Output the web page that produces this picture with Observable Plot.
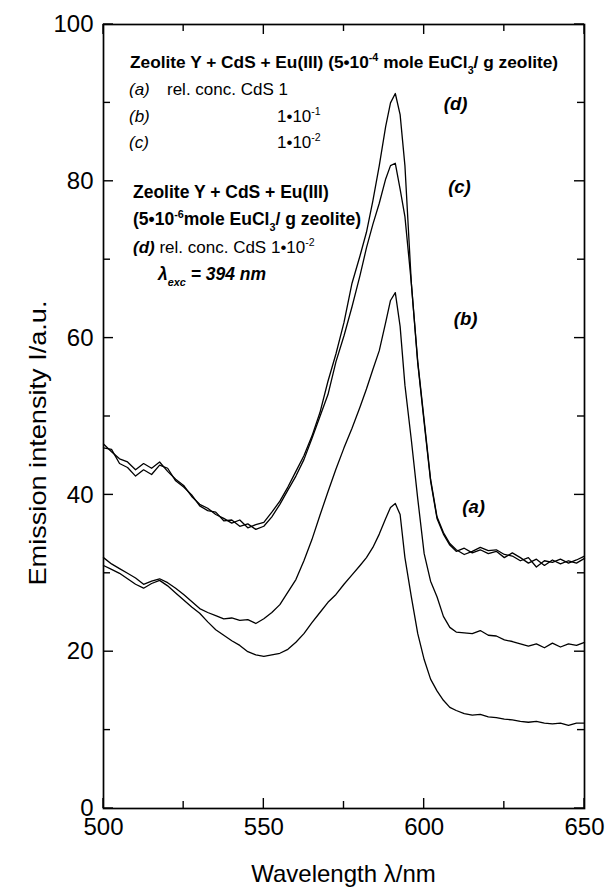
<!DOCTYPE html>
<html><head><meta charset="utf-8">
<script src="https://cdn.jsdelivr.net/npm/d3@7"></script>
<script src="https://cdn.jsdelivr.net/npm/@observablehq/plot@0.6"></script>
<style>html,body{margin:0;padding:0;background:#fff;} #chart svg{display:block;}</style>
</head><body><div id="chart"></div>
<script>
// Wavelength samples (nm)
const wavelengths = [500,502.5,505,507.5,510,512.5,515,517.5,520,522.5,525,527.5,530,532.5,535,537.5,540,542.5,545,547.5,550,552.5,555,557.5,560,562.5,565,567.5,570,572.5,575,577.5,580,
582,584,586,588,589.5,591,592.5,594,596,598,600,602,604,606,608,610,
612.5,615,617.5,620,622.5,625,627.5,630,632.5,635,637.5,640,642.5,645,647.5,650];

// Emission intensity per curve
const curveD = [46.5,45.5,44.6,44.2,43.2,44.0,43.4,44.2,43.0,42.0,41.2,39.8,38.8,38.3,37.5,37.0,36.4,36.8,35.8,36.2,36.5,37.8,39.2,41.0,43.0,45.0,47.5,50.5,54.5,58.0,62.0,67.0,70.5,
73.5,77.5,82.0,87.0,90.0,91.2,88.5,82.0,67.0,57.0,49.5,42.0,37.2,35.2,33.8,33.0,
32.4,32.8,33.3,32.9,33.0,32.4,32.2,31.6,32.0,30.8,31.6,31.4,31.8,31.3,31.7,32.2];
const curveC = [46.0,45.8,44.0,43.5,42.4,43.2,42.6,43.8,43.4,41.8,41.0,40.0,38.6,38.0,37.8,36.7,36.8,36.0,36.3,35.6,36.0,37.2,38.8,40.6,42.4,44.5,47.2,50.0,52.8,57.0,60.3,64.0,68.0,
71.5,74.5,77.2,80.3,82.0,82.3,79.0,75.5,67.0,56.8,49.2,41.8,37.0,35.0,33.6,32.8,
33.2,32.6,33.0,32.5,32.8,32.0,32.6,32.0,31.3,31.8,31.0,31.7,31.2,31.6,31.3,31.9];
const curveB = [32.0,31.2,30.6,30.0,29.4,28.6,29.0,29.3,28.8,28.1,27.3,26.4,25.5,25.0,24.6,24.2,24.3,24.0,24.1,23.6,24.2,25.0,26.0,27.6,29.2,31.6,34.3,37.4,40.4,43.3,46.0,48.5,51.2,
53.5,56.0,58.4,62.0,64.8,65.8,61.5,54.0,47.0,39.5,32.5,29.0,27.0,24.5,23.1,22.5,
22.4,22.3,22.7,22.1,22.0,21.5,21.3,21.0,20.7,21.0,20.5,21.1,20.6,21.0,20.8,21.2];
const curveA = [31.0,30.5,30.0,29.3,28.6,28.1,28.7,29.1,28.4,27.5,26.6,25.7,24.9,23.8,22.8,22.1,21.4,20.8,20.0,19.6,19.4,19.6,19.8,20.3,21.2,22.3,23.7,25.0,26.3,27.3,28.6,29.8,31.0,
32.0,33.3,35.0,37.0,38.4,38.9,37.5,32.0,27.0,22.3,19.0,16.5,15.0,13.8,12.9,12.5,
12.1,11.9,12.0,11.7,11.6,11.4,11.3,11.1,11.0,11.1,10.9,10.8,10.9,10.6,10.9,10.9];

const curveNames = ["(a)","(b)","(c)","(d)"];
const yMajor = [0,20,40,60,80,100];
const yMinor = [10,30,50,70,90];
const xMajor = [500,550,600,650];
const xMinor = [525,575,625];

const rows = [];
[["(a)",curveA],["(b)",curveB],["(c)",curveC],["(d)",curveD]].forEach(([name, vals]) =>
  vals.forEach((v, i) => rows.push({curve: name, wl: wavelengths[i], I: v})));

const font = "'Liberation Sans', Arial, Helvetica, sans-serif";

const plot = Plot.plot({
  width: 607, height: 890,
  marginLeft: 103, marginRight: 23, marginTop: 24, marginBottom: 82,
  style: {fontFamily: font, background: "white", color: "black", overflow: "visible"},
  x: {domain: [500, 650]},
  y: {domain: [0, 100]},
  marks: [
    Plot.line(rows, {x: "wl", y: "I", z: "curve", stroke: "black", strokeWidth: 1.3, curve: "linear"}),
    Plot.frame({stroke: "black", strokeWidth: 1.7}),
    Plot.axisX(xMajor, {anchor: "bottom", tickSize: 0, tickPadding: 9, fontSize: 24, label: null}),
    Plot.axisY(yMajor, {anchor: "left", tickSize: 0, tickPadding: 10, fontSize: 24, label: null}),
    Plot.text(curveNames, {x: [615.4, 612.9, 611.0, 609.8], y: [38.5, 62.4, 79.2, 89.8], text: d => d,
      fontSize: 18.5, fontWeight: "bold", fontStyle: "italic", fill: "black"})
  ]
});
document.getElementById("chart").append(plot);

const svg = d3.select(plot);
const sx = plot.scale("x"), sy = plot.scale("y");
const X = d3.scaleLinear(sx.domain, sx.range);
const Y = d3.scaleLinear(sy.domain, sy.range);
const [x0, x1] = sx.range, [y0, y1] = sy.range; // y0 bottom, y1 top

// inward ticks on all four sides
const tg = svg.append("g").attr("stroke", "black").attr("stroke-width", 1.4);
function tickX(v, len) {
  tg.append("line").attr("x1", X(v)).attr("x2", X(v)).attr("y1", y0).attr("y2", y0 - len);
  tg.append("line").attr("x1", X(v)).attr("x2", X(v)).attr("y1", y1).attr("y2", y1 + len);
}
function tickY(v, len) {
  tg.append("line").attr("y1", Y(v)).attr("y2", Y(v)).attr("x1", x0).attr("x2", x0 + len);
  tg.append("line").attr("y1", Y(v)).attr("y2", Y(v)).attr("x1", x1).attr("x2", x1 - len);
}
xMajor.forEach(v => tickX(v, 10)); xMinor.forEach(v => tickX(v, 7));
yMajor.forEach(v => tickY(v, 10)); yMinor.forEach(v => tickY(v, 7));

// text layer
const g = svg.append("g").attr("font-family", font).attr("fill", "black").attr("text-anchor", "start");
function richText(x, y, parts, {size = 17, weight = "normal", style = "normal"} = {}) {
  const t = g.append("text").attr("x", x).attr("y", y).attr("font-size", size)
    .attr("font-weight", weight).attr("font-style", style).attr("text-anchor", "start");
  let shift = 0;
  for (const p of parts) {
    const o = typeof p === "string" ? {text: p} : p;
    const target = o.sup ? -0.42 * size : o.sub ? 0.32 * size : 0;
    const ts = t.append("tspan").attr("dy", target - shift).text(o.sup || o.sub || o.text);
    if (o.sup || o.sub) ts.attr("font-size", size * 0.62);
    if (o.weight) ts.attr("font-weight", o.weight);
    if (o.style) ts.attr("font-style", o.style);
    shift = target;
  }
  return t;
}
// axis titles
g.append("text").attr("x", (x0 + x1) / 2).attr("y", 882).attr("text-anchor", "middle")
  .attr("font-size", 24).text("Wavelength \u03bb/nm");
g.append("text").attr("transform", "translate(46,443) rotate(-90)").attr("text-anchor", "middle")
  .attr("font-size", 24).attr("textLength", 285).attr("lengthAdjust", "spacingAndGlyphs")
  .text("Emission intensity I/a.u.");

// legend block
richText(130, 68, ["Zeolite Y + CdS + Eu(III) (5\u202210", {sup: "-4"}, " mole EuCl", {sub: "3"}, "/ g zeolite)"], {size: 17.3, weight: "bold"});
richText(129, 95, [{text: "(a)", style: "italic"}]);
richText(167, 95, ["rel. conc. CdS 1"]);
richText(129, 122, [{text: "(b)", style: "italic"}]);
richText(277, 122, ["1\u202210", {sup: "-1"}]);
richText(129, 148, [{text: "(c)", style: "italic"}]);
richText(277, 148, ["1\u202210", {sup: "-2"}]);
richText(133, 198, ["Zeolite Y + CdS + Eu(III)"], {size: 17.5, weight: "bold"});
richText(133, 225, ["(5\u202210", {sup: "-6"}, "mole EuCl", {sub: "3"}, "/ g zeolite)"], {size: 17.5, weight: "bold"});
richText(133, 253, [{text: "(d)", weight: "bold", style: "italic"}, " rel. conc. CdS 1\u202210", {sup: "-2"}]);
richText(158, 280, ["\u03bb", {sub: "exc"}, " = 394 nm"], {size: 17.5, weight: "bold", style: "italic"});
</script>
</body></html>
